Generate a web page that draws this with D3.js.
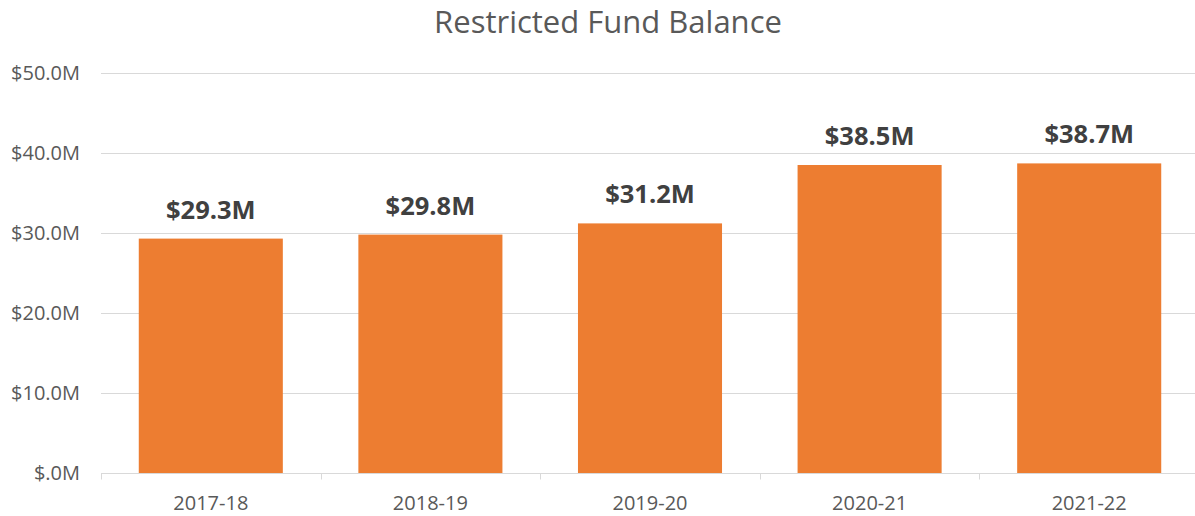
<!DOCTYPE html>
<html>
<head>
<meta charset="utf-8">
<script src="https://cdn.jsdelivr.net/npm/d3@7"></script>
<style>
  body { margin: 0; background: #fff; }
  svg { display: block; font-family: "Open Sans", sans-serif; }
</style>
</head>
<body>
<div id="chart"></div>
<script>
// chart data
var years = ["2017-18", "2018-19", "2019-20", "2020-21", "2021-22"];
var balances = [29.3, 29.8, 31.2, 38.5, 38.7];   // $ millions
var yTicks = [0, 10, 20, 30, 40, 50];

var width = 1195, height = 516;
var margin = {top: 73, right: -4, bottom: 43, left: 101};

var svg = d3.select("#chart").append("svg")
    .attr("width", width)
    .attr("height", height);

var x = d3.scaleBand()
    .domain(years)
    .range([margin.left, width - margin.right])
    .paddingInner(0.344)
    .paddingOuter(0.172);

var y = d3.scaleLinear()
    .domain([0, 50])
    .range([height - margin.bottom, margin.top]);

var fmtTick = function(v) { return v == 0 ? "$.0M" : "$" + v.toFixed(1) + "M"; };

// title
svg.append("text")
    .attr("x", 608)
    .attr("y", 33)
    .attr("text-anchor", "middle")
    .style("font-size", "31px")
    .style("fill", "#595959")
    .text("Restricted Fund Balance");

// gridlines
svg.append("g")
    .selectAll("line")
    .data(yTicks.filter(function(d) { return d > 0; }))
    .enter().append("line")
        .attr("x1", margin.left)
        .attr("x2", width)
        .attr("y1", function(d) { return Math.round(y(d)) + 0.5; })
        .attr("y2", function(d) { return Math.round(y(d)) + 0.5; })
        .style("stroke", "#d9d9d9")
        .style("stroke-width", 1);

// y labels
svg.append("g")
    .selectAll("text")
    .data(yTicks)
    .enter().append("text")
        .attr("x", 80)
        .attr("y", function(d) { return y(d); })
        .attr("dy", "0.35em")
        .attr("text-anchor", "end")
        .style("font-size", "20px")
        .style("fill", "#595959")
        .text(fmtTick);

// bars
svg.append("g")
    .selectAll("rect")
    .data(balances)
    .enter().append("rect")
        .attr("x", function(d, i) { return x(years[i]); })
        .attr("y", function(d) { return y(d); })
        .attr("width", x.bandwidth())
        .attr("height", function(d) { return y(0) - y(d); })
        .style("fill", "#ED7D31");

// x axis
var xAxis = d3.axisBottom(x).tickSize(0).tickPadding(22);
var gx = svg.append("g")
    .attr("transform", "translate(0," + (Math.round(y(0)) + 0.5) + ")")
    .call(xAxis);
gx.select(".domain").remove();
gx.selectAll("text")
    .style("font-size", "20px")
    .style("font-family", "Open Sans, sans-serif")
    .style("fill", "#595959");
gx.append("line")
    .attr("x1", margin.left)
    .attr("x2", width)
    .style("stroke", "#d9d9d9");
var step = x.step();
gx.selectAll(".sep")
    .data(d3.range(years.length + 1))
    .enter().append("line")
        .attr("class", "sep")
        .attr("x1", function(i) { return Math.round(margin.left + i * step) + 0.5; })
        .attr("x2", function(i) { return Math.round(margin.left + i * step) + 0.5; })
        .attr("y1", 0)
        .attr("y2", 6)
        .style("stroke", "#d9d9d9");

// value labels with white background
var lbl = svg.append("g")
    .selectAll("g")
    .data(balances)
    .enter().append("g")
        .attr("transform", function(d, i) {
            return "translate(" + (x(years[i]) + x.bandwidth() / 2) + "," + (y(d) - 20) + ")";
        });
lbl.append("rect")
    .attr("x", -53)
    .attr("y", -27)
    .attr("width", 106)
    .attr("height", 33)
    .style("fill", "#fff");
lbl.append("text")
    .attr("text-anchor", "middle")
    .style("font-size", "25.5px")
    .style("font-weight", "bold")
    .style("fill", "#404040")
    .text(function(d) { return "$" + d.toFixed(1) + "M"; });
</script>
</body>
</html>
